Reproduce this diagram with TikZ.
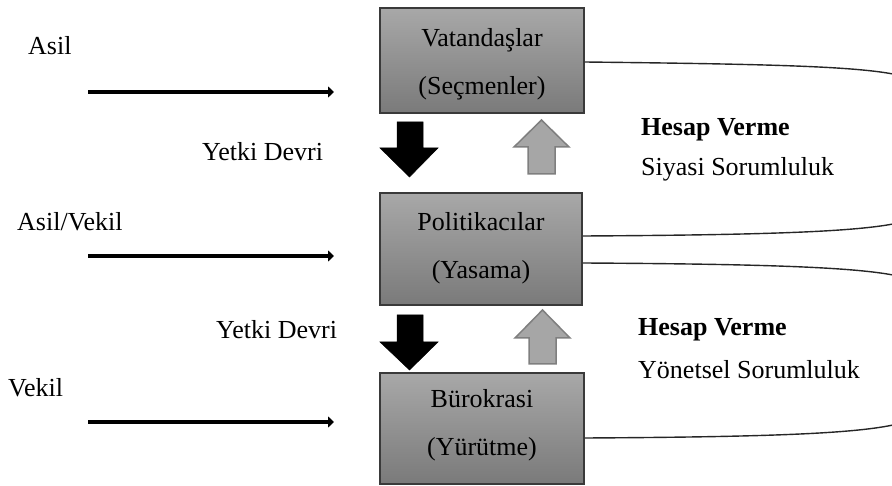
\documentclass[tikz,border=0pt]{standalone}
\usepackage{fontspec}
\setmainfont{Liberation Serif}
\usetikzlibrary{arrows.meta}
\definecolor{boxtop}{HTML}{A8A8A8}
\definecolor{boxbot}{HTML}{7A7A7A}
\definecolor{boxline}{HTML}{3A3A3A}
\definecolor{upfill}{HTML}{A6A6A6}
\definecolor{upline}{HTML}{7F7F7F}
\tikzset{
  lvl/.style={draw=boxline, line width=1.5pt, top color=boxtop, bottom color=boxbot,
    inner sep=0pt},
  boxtxt/.style={inner sep=0pt, align=center, font=\fontsize{26}{48}\selectfont},
  lbl/.style={anchor=base west, inner sep=0pt, font=\fontsize{26}{30}\selectfont},
  side/.style={line width=4.5pt, -{Triangle[length=6pt,width=11pt]}},
  tie/.style={line width=1.4pt, draw=black!85},
  down/.style={fill=black, draw=black, line width=0.5pt},
  upar/.style={fill=upfill, draw=upline, line width=1.5pt}
}
\begin{document}
\begin{tikzpicture}[x=1pt,y=-1pt]
\useasboundingbox (0,0) rectangle (892,486);
% boxes
\node[lvl, minimum width=204pt, minimum height=105pt] (v) at (482,60.5) {};
\node[lvl, minimum width=202pt, minimum height=112pt] (p) at (481,249) {};
\node[lvl, minimum width=204pt, minimum height=111pt] (b) at (482,428.5) {};
\node[boxtxt] (vt) at (482,64) {Vatandaşlar\\(Seçmenler)};
\node[boxtxt] (pt) at (481,248) {Politikacılar\\(Yasama)};
\node[boxtxt] (bt) at (482,425) {Bürokrasi\\(Yürütme)};
% left labels and arrows
\node[lbl] (asil) at (28,55) {Asil};
\node[lbl] (asilvekil) at (17,231) {Asil/Vekil};
\node[lbl] (vekil) at (8,396) {Vekil};
\coordinate (a1s) at (88,92); \coordinate (a1e) at (334,92);
\coordinate (a2s) at (88,256); \coordinate (a2e) at (334,256);
\coordinate (a3s) at (88,422); \coordinate (a3e) at (334,422);
\draw[side] (a1s) -- (a1e);
\draw[side] (a2s) -- (a2e);
\draw[side] (a3s) -- (a3e);
\node[lbl] (yd1) at (202,161) {Yetki Devri};
\node[lbl] (yd2) at (216,339) {Yetki Devri};
% block arrows
\draw[down] (397,122) -- (423,122) -- (423,148) -- (438,148) -- (409.5,177) -- (380,148) -- (397,148) -- cycle;
\draw[down] (397,315) -- (423,315) -- (423,342) -- (438,342) -- (409.5,370) -- (380,342) -- (397,342) -- cycle;
\draw[upar] (528,174) -- (555,174) -- (555,147) -- (569,147) -- (541.5,120) -- (514,147) -- (528,147) -- cycle;
\draw[upar] (529,364) -- (556,364) -- (556,338) -- (570,338) -- (542.5,310) -- (515,338) -- (529,338) -- cycle;
% right labels
\node[lbl, font=\fontsize{26}{30}\selectfont\bfseries] (hv1) at (641,136) {Hesap Verme};
\node[lbl] (ss) at (641,176) {Siyasi Sorumluluk};
\node[lbl, font=\fontsize{26}{30}\selectfont\bfseries] (hv2) at (638,336) {Hesap Verme};
\node[lbl] (ys) at (638,379) {Yönetsel Sorumluluk};
% right curves
\coordinate (r1) at (893,74);
\coordinate (r2) at (893,224);
\coordinate (r3) at (893,275);
\coordinate (r4) at (893,425);
\draw[tie] ([yshift=-1.5pt]v.east) .. controls (760,64) and (850,66) .. (r1);
\draw[tie] ([yshift=13pt]p.east) .. controls (760,235) and (850,232) .. (r2);
\draw[tie] ([yshift=-14pt]p.east) .. controls (760,264) and (850,267) .. (r3);
\draw[tie] ([yshift=-9.5pt]b.east) .. controls (760,437) and (850,434) .. (r4);
\end{tikzpicture}
\end{document}
